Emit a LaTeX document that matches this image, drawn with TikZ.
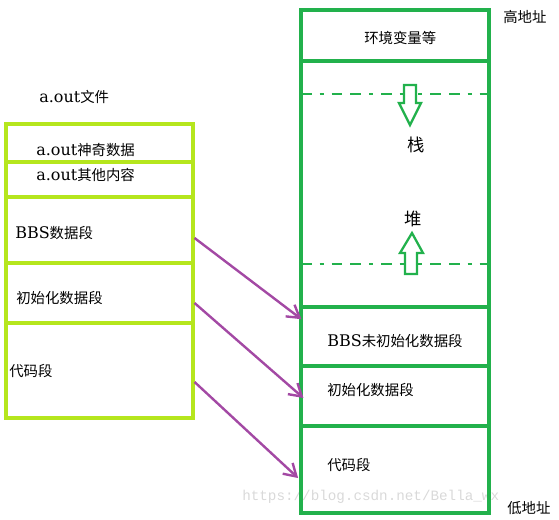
\documentclass[tikz,border=0pt]{standalone}
\usepackage{fontspec}
\setmainfont{DejaVu Serif}
\newfontfamily\cjkfont{Noto Sans CJK SC}
\newfontfamily\wmfont{Liberation Mono}
\newcommand{\zh}[1]{{\cjkfont\fontsize{10.8}{13}\selectfont #1}}
\usetikzlibrary{arrows.meta, positioning, fit}
\definecolor{limeline}{HTML}{B5E61D}
\definecolor{memgreen}{HTML}{22B14C}
\definecolor{linkpurple}{HTML}{A349A4}

\begin{document}
\begin{tikzpicture}[x=0.75pt, y=-0.75pt,
  filecell/.style={draw=limeline, line width=2.3pt, inner sep=0pt},
  memcell/.style={draw=memgreen, line width=2.3pt, inner sep=0pt},
  txt/.style={anchor=west, inner sep=0pt, font=\fontsize{12}{14}\selectfont},
  link/.style={-{Straight Barb[length=9pt, width=11pt]}, draw=linkpurple, line width=1.8pt},
  growth/.style={draw=memgreen, line width=1.7pt, fill=white},
  boundary/.style={draw=memgreen, line width=2pt, dash pattern=on 8pt off 6pt on 3pt off 6pt on 8pt off 6pt}
]
  \useasboundingbox (0,0) rectangle (559,519);

  % a.out file
  \node[txt] (filetitle) at (39,97) {a.out\zh{文件}};
  \node[filecell, fit={(6,124) (193,162)}] (magic) {};
  \node[filecell, fit={(6,162) (193,197)}] (other) {};
  \node[filecell, fit={(6,197) (193,263)}] (bbs) {};
  \node[filecell, fit={(6,263) (193,323)}] (init) {};
  \node[filecell, fit={(6,323) (193,418)}] (code) {};
  \node[txt] (magictxt) at (36,150) {a.out\zh{神奇数据}};
  \node[txt] (othertxt) at (36,175) {a.out\zh{其他内容}};
  \node[txt] (bbstxt) at (15,233) {BBS\zh{数据段}};
  \node[txt] (inittxt) at (16,298) {\zh{初始化数据段}};
  \node[txt] (codetxt) at (9,371) {\zh{代码段}};

  % memory layout
  \node[txt, text=black!15, font=\wmfont\fontsize{10.7}{12}\selectfont] (mark) at (242,497) {https://blog.csdn.net/Bella\_wx};
  \node[memcell, fit={(301,10) (489,61)}] (env) {};
  \node[memcell, fit={(301,61) (489,307)}] (heapstack) {};
  \node[memcell, fit={(301,307) (489,366)}] (bss) {};
  \node[memcell, fit={(301,366) (489,426)}] (data) {};
  \node[memcell, fit={(301,426) (489,513)}] (textseg) {};
  \draw[boundary] (301,94) -- (489,94);
  \draw[boundary] (301,264) -- (489,264);
  \draw[growth] (404,85) -- (416,85) -- (416,103) -- (421,103) -- (410,125) -- (399,103) -- (404,103) -- cycle;
  \draw[growth] (405,274) -- (417,274) -- (417,253) -- (423,253) -- (412,233) -- (400,253) -- (405,253) -- cycle;

  \node[txt] (envtxt) at (364,38) {\zh{环境变量等}};
  \node[txt, anchor=center] (stacktxt) at (416,145) {{\cjkfont\fontsize{13}{15}\selectfont 栈}};
  \node[txt, anchor=center] (heaptxt) at (413,219) {{\cjkfont\fontsize{13}{15}\selectfont 堆}};
  \node[txt] (bsstxt) at (327,341) {BBS\zh{未初始化数据段}};
  \node[txt] (datatxt) at (327,390) {\zh{初始化数据段}};
  \node[txt] (segtxt) at (327,465) {\zh{代码段}};
  \node[txt] (high) at (503,17) {\zh{高地址}};
  \node[txt] (low) at (507,508) {\zh{低地址}};

  \draw[link] ([yshift=-6pt]bbs.east) -- ([xshift=1.5pt, yshift=13pt]bss.west);
  \draw[link] ([yshift=-7.5pt]init.east) -- ([xshift=3pt, yshift=-1.5pt]data.west);
  \draw[link] ([yshift=-8.6pt]code.east) -- ([xshift=-1pt, yshift=-6.4pt]textseg.west);
\end{tikzpicture}
\end{document}
